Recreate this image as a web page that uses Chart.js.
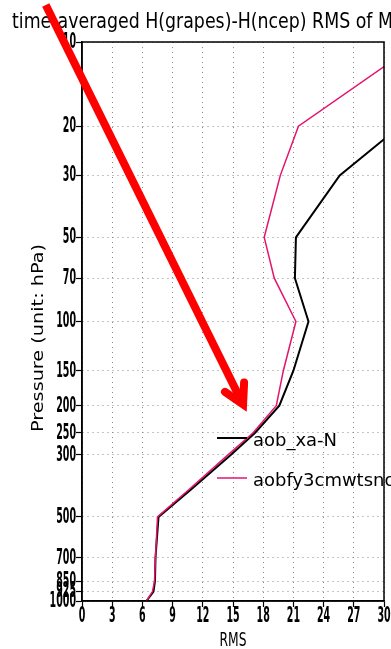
<!DOCTYPE html>
<html>
<head>
<meta charset="utf-8">
<script src="https://cdn.jsdelivr.net/npm/chart.js@4"></script>
<style>
  html, body { margin: 0; padding: 0; background: #fff; }
  #wrap { width: 391px; height: 649px; position: relative; }
</style>
</head>
<body>
<div id="wrap"><canvas id="c" width="391" height="649"></canvas></div>
<script>
// Pressure levels (hPa) of the vertical profile
const pressureLevels = [10, 20, 30, 50, 70, 100, 150, 200, 250, 300, 400, 500, 700, 850, 925, 1000];
// RMS of H(grapes)-H(ncep) per level, two experiments
const rmsXaN  = [36.0, 31.6, 25.6, 21.25, 21.15, 22.5, 21.0, 19.6, 17.2, 14.8, 10.8, 7.6, 7.3, 7.25, 7.1, 6.4];
const rmsFy3  = [33.5, 21.5, 19.7, 18.1, 19.1, 21.25, 20.0, 19.3, 17.0, 14.5, 10.6, 7.5, 7.3, 7.2, 7.0, 6.4];
const seriesNames = ['aob_xa-N', 'aobfy3cmwtsnon'];
// Axis ticks
const pressureTicks = [10, 20, 30, 50, 70, 100, 150, 200, 250, 300, 500, 700, 850, 925, 1000];
const rmsTicks = [0, 3, 6, 9, 12, 15, 18, 21, 24, 27, 30];
// Texts
const titleText = 'time-averaged H(grapes)-H(ncep) RMS of M';
const titleFitPart = 'time-averaged H(grapes)-H(ncep) RMS of ';
const xTitle = 'RMS';
const yTitle = 'Pressure (unit: hPa)';
// Pointer arrow, in data coordinates (RMS, hPa)
const arrowFrom = [-3.6, 7.37];
const arrowTo = [16.0, 198];

const BLACK = '#000000';
const PINK = '#e3146c';
const TICK_FONT = "bold 21px 'DejaVu Sans Condensed', 'DejaVu Sans', sans-serif";
const DIGIT_WIDTH = 6.6;

const toPoints = vals => vals.map((v, i) => ({ x: v, y: pressureLevels[i] }));

// Draw a string squeezed horizontally to a given width
function fitText(ctx, text, x, y, fitWidth, font, measureText) {
  ctx.save();
  ctx.font = font;
  const w = ctx.measureText(measureText || text).width;
  const s = fitWidth / w;
  ctx.translate(x, y);
  ctx.scale(s, 1);
  ctx.textAlign = 'left';
  ctx.textBaseline = 'alphabetic';
  ctx.fillText(text, 0, 0);
  ctx.restore();
  return s;
}

// Draw text with a fixed horizontal squeeze, anchored by align/baseline
function squeezedText(ctx, text, x, y, sx, font, align, baseline, outline) {
  ctx.save();
  ctx.font = font;
  ctx.translate(x, y);
  ctx.scale(sx, 1);
  ctx.textAlign = align;
  ctx.textBaseline = baseline;
  ctx.fillText(text, 0, 0);
  if (outline) {
    ctx.strokeStyle = ctx.fillStyle;
    ctx.lineWidth = outline;
    ctx.strokeText(text, 0, 0);
  }
  ctx.restore();
}

const decorations = {
  id: 'decorations',
  afterDraw(chart) {
    const { ctx, chartArea: a, scales } = chart;
    ctx.save();
    ctx.fillStyle = '#000';

    // frame around the plotting area
    ctx.strokeStyle = '#000';
    ctx.lineWidth = 1.5;
    ctx.strokeRect(a.left, a.top, a.right - a.left, a.bottom - a.top);

    // tick labels, narrow digits
    ctx.font = TICK_FONT;
    const sx = DIGIT_WIDTH / ctx.measureText('0').width;
    pressureTicks.forEach(v => {
      squeezedText(ctx, String(v), a.left - 6, scales.y.getPixelForValue(v) + 0.5, sx, TICK_FONT, 'right', 'middle', 0);
    });
    rmsTicks.forEach(v => {
      squeezedText(ctx, String(v), scales.x.getPixelForValue(v), a.bottom + 16, sx, TICK_FONT, 'center', 'middle', 0);
    });

    // title
    fitText(ctx, titleText, 12, 28, 366, "21px 'DejaVu Sans'", titleFitPart);

    // x axis title
    fitText(ctx, xTitle, 233 - 27 / 2, 646, 27, "19px 'DejaVu Sans'");

    // y axis title (rotated)
    ctx.save();
    ctx.translate(43, 432);
    ctx.rotate(-Math.PI / 2);
    fitText(ctx, yTitle, 0, 0, 188, "16px 'DejaVu Sans'");
    ctx.restore();

    // legend
    const legendFont = "18px 'DejaVu Sans'";
    const entries = [
      { color: BLACK, width: 2, y: 438 },
      { color: PINK, width: 1.5, y: 478 }
    ];
    ctx.save();
    ctx.font = legendFont;
    const scaleX = 84 / ctx.measureText(seriesNames[0]).width;
    ctx.restore();
    entries.forEach((e, i) => {
      ctx.save();
      ctx.strokeStyle = e.color;
      ctx.lineWidth = e.width;
      ctx.beginPath();
      ctx.moveTo(217, e.y);
      ctx.lineTo(247, e.y);
      ctx.stroke();
      ctx.restore();
      squeezedText(ctx, seriesNames[i], 253, e.y + 7.7, scaleX, legendFont, 'left', 'alphabetic');
    });

    // red pointer arrow
    const x0 = scales.x.getPixelForValue(arrowFrom[0]);
    const y0 = scales.y.getPixelForValue(arrowFrom[1]);
    const x1 = scales.x.getPixelForValue(arrowTo[0]);
    const y1 = scales.y.getPixelForValue(arrowTo[1]);
    const back = Math.atan2(y0 - y1, x0 - x1);
    const headLen = 22;
    const spread = 29 * Math.PI / 180;
    ctx.strokeStyle = '#ff0000';
    ctx.lineWidth = 8;
    ctx.lineCap = 'butt';
    ctx.lineJoin = 'miter';
    ctx.beginPath();
    ctx.moveTo(x0, y0);
    ctx.lineTo(x1, y1);
    ctx.stroke();
    ctx.lineCap = 'round';
    ctx.beginPath();
    ctx.moveTo(x1 + headLen * Math.cos(back - spread), y1 + headLen * Math.sin(back - spread));
    ctx.lineTo(x1, y1);
    ctx.lineTo(x1 + headLen * Math.cos(back + spread), y1 + headLen * Math.sin(back + spread));
    ctx.stroke();
    ctx.restore();
  }
};

const gridCommon = {
  color: '#8a8a8a',
  lineWidth: 1,
  drawTicks: true,
  tickLength: 6,
  tickColor: '#000',
  tickWidth: 1.2,
  tickBorderDash: []
};

new Chart(document.getElementById('c'), {
  type: 'scatter',
  data: {
    datasets: [
      {
        label: seriesNames[0],
        data: toPoints(rmsXaN),
        showLine: true,
        borderColor: BLACK,
        borderWidth: 2,
        pointRadius: 0,
        tension: 0,
        clip: 0,
        order: 1
      },
      {
        label: seriesNames[1],
        data: toPoints(rmsFy3),
        showLine: true,
        borderColor: PINK,
        borderWidth: 1.5,
        pointRadius: 0,
        tension: 0,
        clip: 0,
        order: 0
      }
    ]
  },
  options: {
    responsive: false,
    animation: false,
    devicePixelRatio: 1,
    layout: { padding: { top: 42, right: 7, left: 0, bottom: 0 } },
    plugins: { legend: { display: false }, tooltip: { enabled: false }, title: { display: false } },
    scales: {
      x: {
        type: 'linear',
        min: 0,
        max: 30,
        afterBuildTicks: s => { s.ticks = rmsTicks.map(v => ({ value: v })); },
        afterFit: s => { s.height = 48; s.paddingLeft = 0; s.paddingRight = 0; },
        grid: gridCommon,
        border: { display: true, color: '#000', width: 1.5, dash: [1, 4] },
        ticks: { display: false, autoSkip: false }
      },
      y: {
        type: 'logarithmic',
        reverse: true,
        min: 10,
        max: 1000,
        afterBuildTicks: s => { s.ticks = pressureTicks.map(v => ({ value: v })); },
        afterFit: s => { s.width = 82; s.paddingTop = 0; s.paddingBottom = 0; },
        grid: gridCommon,
        border: { display: true, color: '#000', width: 1.5, dash: [1, 4] },
        ticks: { display: false, autoSkip: false }
      }
    }
  },
  plugins: [decorations]
});
</script>
</body>
</html>
